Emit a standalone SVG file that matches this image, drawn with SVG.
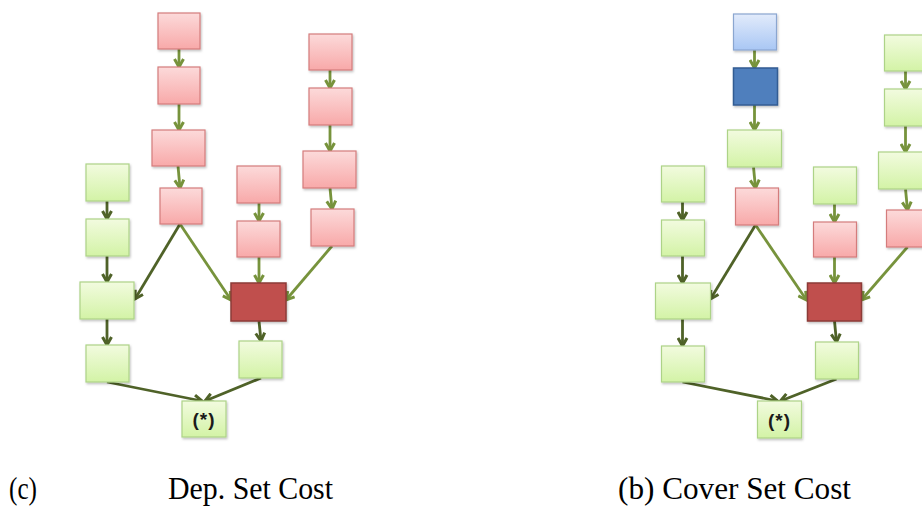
<svg xmlns="http://www.w3.org/2000/svg" width="922" height="507" viewBox="0 0 922 507">
<defs>
<linearGradient id="gPink" x1="0" y1="0" x2="0" y2="1"><stop offset="0" stop-color="#fcdada"/><stop offset="1" stop-color="#f8a9a9"/></linearGradient>
<linearGradient id="gGreen" x1="0" y1="0" x2="0" y2="1"><stop offset="0" stop-color="#f2fbdf"/><stop offset="1" stop-color="#d3f3a6"/></linearGradient>
<linearGradient id="gBlue" x1="0" y1="0" x2="0" y2="1"><stop offset="0" stop-color="#e2ebfb"/><stop offset="1" stop-color="#a9c7f4"/></linearGradient>
<filter id="sh" x="-20%" y="-20%" width="150%" height="150%"><feDropShadow dx="1" dy="1.5" stdDeviation="1" flood-color="#000" flood-opacity="0.25"/></filter>
<marker id="aL" viewBox="0 0 12 12" markerWidth="12" markerHeight="12" refX="10" refY="6" orient="auto" markerUnits="userSpaceOnUse"><path d="M2,1.5 L10,6 L2,10.5" fill="none" stroke="#77933c" stroke-width="3"/></marker>
<marker id="aD" viewBox="0 0 12 12" markerWidth="12" markerHeight="12" refX="10" refY="6" orient="auto" markerUnits="userSpaceOnUse"><path d="M2,1.5 L10,6 L2,10.5" fill="none" stroke="#4f6228" stroke-width="3"/></marker>
</defs>
<style>
.pink{fill:url(#gPink);stroke:#d47c7c;stroke-width:1.2;filter:url(#sh)}
.green{fill:url(#gGreen);stroke:#add387;stroke-width:1.2;filter:url(#sh)}
.lblue{fill:url(#gBlue);stroke:#8aa6d0;stroke-width:1.2;filter:url(#sh)}
.dblue{fill:#4f7fbd;stroke:#335c93;stroke-width:1.5;filter:url(#sh)}
.dred{fill:#c0504d;stroke:#8c3a37;stroke-width:1.5;filter:url(#sh)}
.cl{stroke:#77933c;stroke-width:2.8;fill:none;marker-end:url(#aL)}
.cd{stroke:#4f6228;stroke-width:2.8;fill:none;marker-end:url(#aD)}
.star{font-family:"Liberation Sans",Arial,sans-serif;font-size:19px;font-weight:bold;fill:#1a1a1a;text-anchor:middle;letter-spacing:1px}
.cap{font-family:"Liberation Serif","Times New Roman",serif;font-size:31px;fill:#000}
</style>

<!-- Left diagram (c) -->
<g id="left">
<g id="connectors-left">
<line class="cl" x1="179" y1="49" x2="179" y2="67"/>
<line class="cl" x1="179" y1="104" x2="179" y2="130"/>
<line class="cl" x1="178" y1="166" x2="180" y2="188"/>
<line class="cl" x1="330" y1="70" x2="330" y2="88"/>
<line class="cl" x1="330" y1="125" x2="330" y2="151"/>
<line class="cl" x1="330" y1="188" x2="332" y2="209"/>
<line class="cd" x1="180" y1="224" x2="135" y2="299"/>
<line class="cl" x1="180" y1="224" x2="231" y2="300"/>
<line class="cl" x1="332" y1="246" x2="286" y2="300"/>
<line class="cl" x1="259" y1="203" x2="259" y2="221"/>
<line class="cl" x1="259" y1="257" x2="259" y2="283"/>
<line class="cd" x1="259" y1="321" x2="261" y2="341"/>
<line class="cd" x1="107" y1="201" x2="107" y2="219"/>
<line class="cd" x1="107" y1="256" x2="107" y2="282"/>
<line class="cd" x1="107" y1="319" x2="107" y2="345"/>
<line class="cd" x1="107" y1="382" x2="202" y2="401"/>
<line class="cd" x1="261" y1="378" x2="205" y2="401"/>
</g>
<g id="cA1"><rect class="pink" x="158" y="13" width="42" height="36"/></g>
<g id="cA2"><rect class="pink" x="158" y="67" width="42" height="37"/></g>
<g id="cA3"><rect class="pink" x="152" y="130" width="53" height="36"/></g>
<g id="cA4"><rect class="pink" x="160" y="188" width="42" height="36"/></g>
<g id="cB1"><rect class="pink" x="309" y="34" width="43" height="36"/></g>
<g id="cB2"><rect class="pink" x="309" y="88" width="43" height="37"/></g>
<g id="cB3"><rect class="pink" x="303" y="151" width="53" height="37"/></g>
<g id="cB4"><rect class="pink" x="311" y="209" width="43" height="37"/></g>
<g id="cC1"><rect class="pink" x="237" y="166" width="43" height="37"/></g>
<g id="cC2"><rect class="pink" x="237" y="221" width="43" height="36"/></g>
<g id="cR"><rect class="dred" x="231" y="283" width="55" height="38"/></g>
<g id="cC3"><rect class="green" x="239" y="341" width="43" height="37"/></g>
<g id="cD1"><rect class="green" x="86" y="164" width="43" height="37"/></g>
<g id="cD2"><rect class="green" x="86" y="219" width="43" height="37"/></g>
<g id="cD3"><rect class="green" x="80" y="282" width="54" height="37"/></g>
<g id="cD4"><rect class="green" x="86" y="345" width="43" height="37"/></g>
<g id="cS"><rect class="green" x="182" y="401" width="44" height="36"/><text class="star" x="204" y="426">(*)</text></g>
</g>

<!-- Right diagram (b) -->
<g id="right" transform="translate(575.5,0)">
<g id="connectors-right">
<line class="cl" x1="179" y1="50" x2="179" y2="68"/>
<line class="cl" x1="179" y1="105" x2="179" y2="130"/>
<line class="cl" x1="178" y1="167" x2="180" y2="188"/>
<line class="cl" x1="330" y1="71" x2="330" y2="89"/>
<line class="cl" x1="330" y1="126" x2="330" y2="152"/>
<line class="cl" x1="330" y1="189" x2="332" y2="210"/>
<line class="cd" x1="180" y1="225" x2="135" y2="299"/>
<line class="cl" x1="180" y1="225" x2="231" y2="300"/>
<line class="cl" x1="332" y1="247" x2="286" y2="300"/>
<line class="cl" x1="259" y1="204" x2="259" y2="222"/>
<line class="cl" x1="259" y1="257" x2="259" y2="283"/>
<line class="cd" x1="259" y1="321" x2="261" y2="342"/>
<line class="cd" x1="107" y1="202" x2="107" y2="220"/>
<line class="cd" x1="107" y1="256" x2="107" y2="283"/>
<line class="cd" x1="107" y1="319" x2="107" y2="346"/>
<line class="cd" x1="107" y1="382" x2="202" y2="401"/>
<line class="cd" x1="261" y1="379" x2="205" y2="401"/>
</g>
<g id="bA1"><rect class="lblue" x="158" y="14" width="43" height="36"/></g>
<g id="bA2"><rect class="dblue" x="158" y="68" width="44" height="37"/></g>
<g id="bA3"><rect class="green" x="152" y="130" width="54" height="37"/></g>
<g id="bA4"><rect class="pink" x="160" y="188" width="43" height="37"/></g>
<g id="bB1"><rect class="green" x="309" y="35" width="43" height="36"/></g>
<g id="bB2"><rect class="green" x="309" y="89" width="43" height="37"/></g>
<g id="bB3"><rect class="green" x="303" y="152" width="53" height="37"/></g>
<g id="bB4"><rect class="pink" x="311" y="210" width="43" height="37"/></g>
<g id="bC1"><rect class="green" x="238" y="167" width="43" height="37"/></g>
<g id="bC2"><rect class="pink" x="238" y="222" width="43" height="35"/></g>
<g id="bR"><rect class="dred" x="232" y="283" width="54" height="38"/></g>
<g id="bC3"><rect class="green" x="240" y="342" width="43" height="37"/></g>
<g id="bD1"><rect class="green" x="86" y="166" width="43" height="36"/></g>
<g id="bD2"><rect class="green" x="86" y="220" width="43" height="36"/></g>
<g id="bD3"><rect class="green" x="80" y="283" width="55" height="36"/></g>
<g id="bD4"><rect class="green" x="86" y="346" width="43" height="36"/></g>
<g id="bS"><rect class="green" x="182" y="401" width="44" height="37"/><text class="star" x="204" y="426.5">(*)</text></g>
</g>

<g id="captions">
<text class="cap" x="9" y="499" textLength="28" lengthAdjust="spacingAndGlyphs">(c)</text>
<text class="cap" x="168" y="499" textLength="165" lengthAdjust="spacingAndGlyphs">Dep. Set Cost</text>
<text class="cap" x="618" y="499" textLength="233" lengthAdjust="spacingAndGlyphs">(b) Cover Set Cost</text>
</g>
</svg>
